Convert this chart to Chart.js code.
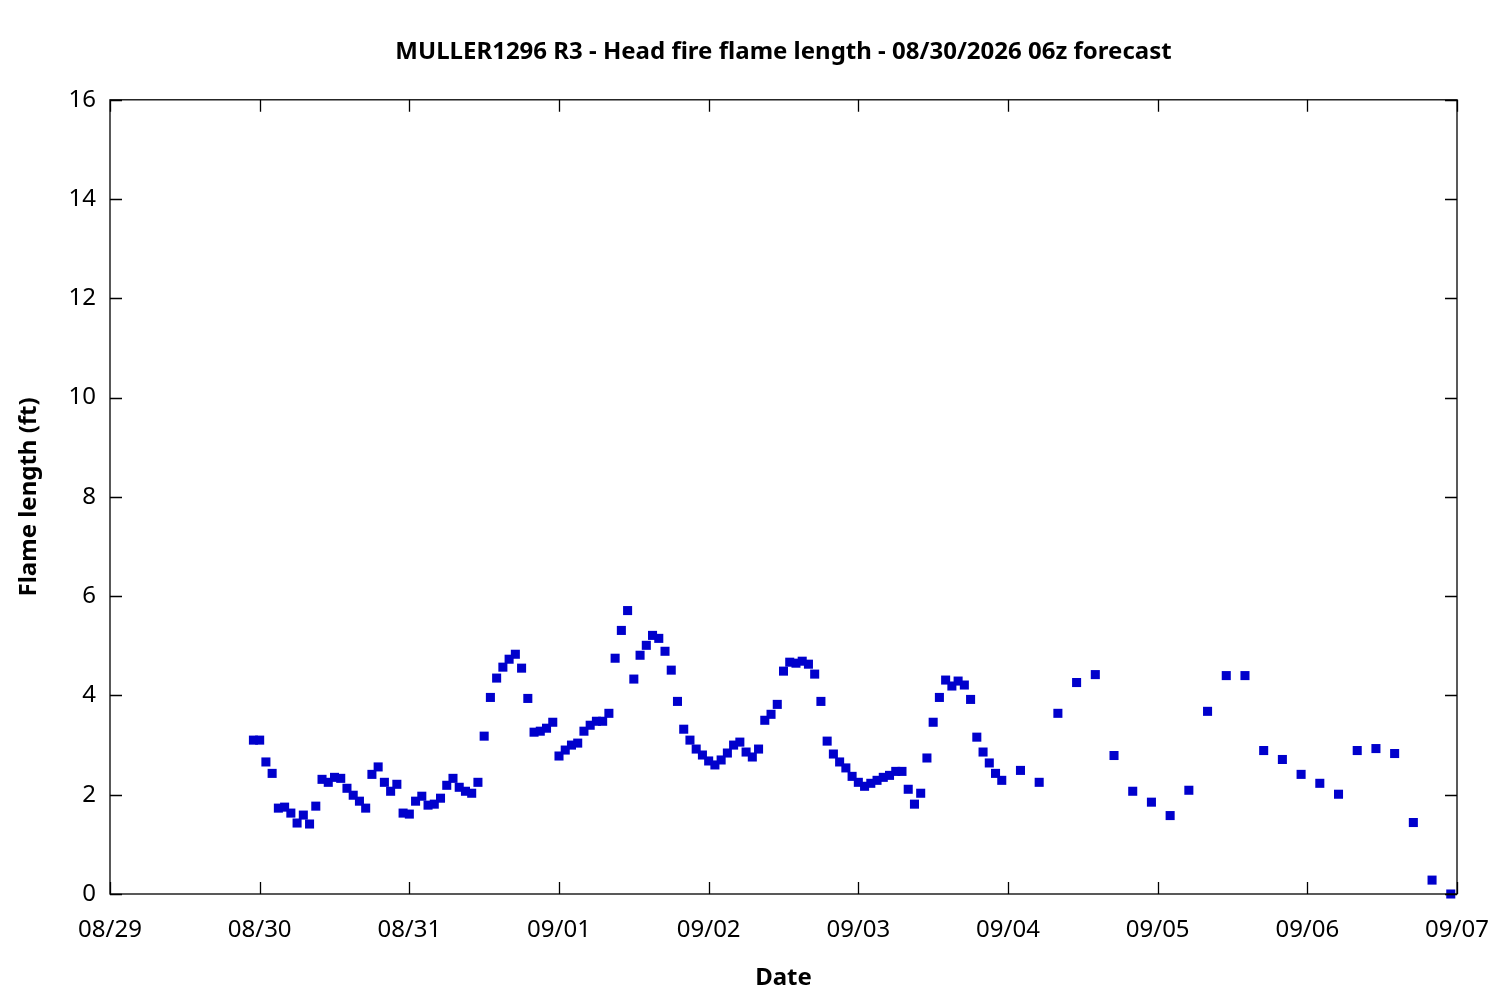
<!DOCTYPE html>
<html>
<head>
<meta charset="utf-8">
<script src="https://cdn.jsdelivr.net/npm/chart.js@4"></script>
<style>
  html, body { margin: 0; padding: 0; background: #fff; }
  #wrap { width: 1500px; height: 1000px; }
</style>
</head>
<body>
<div id="wrap"><canvas id="flameChart" width="1500" height="1000"></canvas></div>
<script>
// hours since 08/29 00z
const hours = [
  23, 24, 25, 26, 27, 28, 29, 30, 31, 32, 33, 34, 35, 36, 37, 38, 39, 40, 41, 42,
  43, 44, 45, 46, 47, 48, 49, 50, 51, 52, 53, 54, 55, 56, 57, 58, 59, 60, 61, 62,
  63, 64, 65, 66, 67, 68, 69, 70, 71, 72, 73, 74, 75, 76, 77, 78, 79, 80, 81, 82,
  83, 84, 85, 86, 87, 88, 89, 90, 91, 92, 93, 94, 95, 96, 97, 98, 99, 100, 101, 102,
  103, 104, 105, 106, 107, 108, 109, 110, 111, 112, 113, 114, 115, 116, 117, 118, 119, 120, 121, 122,
  123, 124, 125, 126, 127, 128, 129, 130, 131, 132, 133, 134, 135, 136, 137, 138, 139, 140, 141, 142,
  143, 146, 149, 152, 155, 158, 161, 164, 167, 170, 173, 176, 179, 182, 185, 188, 191, 194, 197, 200,
  203, 206, 209, 212, 215
];

// flame length (ft)
const flameLength = [
  3.10, 3.10, 2.66, 2.43, 1.73, 1.75, 1.63, 1.43, 1.59, 1.41, 1.77, 2.31, 2.25, 2.35, 2.33, 2.13, 1.99, 1.87, 1.73, 2.41,
  2.56, 2.25, 2.07, 2.21, 1.63, 1.61, 1.87, 1.97, 1.79, 1.81, 1.93, 2.19, 2.33, 2.15, 2.07, 2.03, 2.25, 3.18, 3.96, 4.35,
  4.57, 4.73, 4.83, 4.55, 3.94, 3.26, 3.28, 3.34, 3.46, 2.78, 2.90, 3.00, 3.04, 3.28, 3.40, 3.48, 3.48, 3.64, 4.75, 5.31,
  5.71, 4.33, 4.81, 5.01, 5.21, 5.15, 4.89, 4.51, 3.88, 3.32, 3.10, 2.92, 2.80, 2.68, 2.60, 2.70, 2.84, 3.00, 3.06, 2.86,
  2.76, 2.92, 3.50, 3.62, 3.82, 4.49, 4.67, 4.65, 4.69, 4.63, 4.43, 3.88, 3.08, 2.82, 2.66, 2.54, 2.37, 2.25, 2.17, 2.23,
  2.29, 2.35, 2.39, 2.47, 2.47, 2.11, 1.81, 2.03, 2.74, 3.46, 3.96, 4.31, 4.19, 4.29, 4.21, 3.92, 3.16, 2.86, 2.64, 2.43,
  2.29, 2.49, 2.25, 3.64, 4.26, 4.42, 2.79, 2.07, 1.85, 1.58, 2.09, 3.68, 4.40, 4.40, 2.89, 2.71, 2.41, 2.23, 2.01, 2.89,
  2.93, 2.83, 1.44, 0.28, 0.00
];

const dateLabels = ["08/29", "08/30", "08/31", "09/01", "09/02", "09/03", "09/04", "09/05", "09/06", "09/07"];
const yTicks = [0, 2, 4, 6, 8, 10, 12, 14, 16];

const FONT = "'Noto Sans', 'Open Sans', sans-serif";

// gnuplot style frame: box all round, ticks pointing inward, mirrored
const frameTicks = {
  id: 'frameTicks',
  afterDraw(chart) {
    const { ctx, chartArea: a, scales } = chart;
    const len = 12;
    ctx.save();
    ctx.strokeStyle = '#000';
    ctx.lineWidth = 1.3;
    ctx.strokeRect(a.left, a.top, a.right - a.left, a.bottom - a.top);
    ctx.beginPath();
    scales.x.ticks.forEach(t => {
      const px = Math.round(scales.x.getPixelForValue(t.value)) + 0.5;
      ctx.moveTo(px, a.bottom); ctx.lineTo(px, a.bottom - len);
      ctx.moveTo(px, a.top); ctx.lineTo(px, a.top + len);
    });
    scales.y.ticks.forEach(t => {
      const py = Math.round(scales.y.getPixelForValue(t.value)) + 0.5;
      ctx.moveTo(a.left, py); ctx.lineTo(a.left + len, py);
      ctx.moveTo(a.right, py); ctx.lineTo(a.right - len, py);
    });
    ctx.stroke();
    ctx.restore();
  }
};

new Chart(document.getElementById('flameChart'), {
  type: 'scatter',
  data: {
    datasets: [{
      label: 'Flame length',
      data: hours.map((h, i) => ({ x: h, y: flameLength[i] })),
      pointStyle: 'rect',
      pointRadius: 6.4,
      pointHoverRadius: 6.4,
      borderWidth: 0,
      backgroundColor: '#0000cc',
      borderColor: '#0000cc',
      clip: false
    }]
  },
  options: {
    responsive: false,
    animation: false,
    layout: { padding: { top: 0, right: 43, bottom: 0, left: 0 } },
    plugins: {
      legend: { display: false },
      tooltip: { enabled: false },
      title: {
        display: true,
        fullSize: false,
        text: 'MULLER1296 R3 - Head fire flame length - 08/30/2026 06z forecast',
        color: '#000',
        font: { family: FONT, size: 24, weight: 'bold' },
        padding: { top: 38, bottom: 33 }
      }
    },
    scales: {
      x: {
        type: 'linear',
        min: 0,
        max: 216,
        afterBuildTicks(scale) {
          scale.ticks = dateLabels.map((d, i) => ({ value: i * 24 }));
        },
        afterFit(scale) {
          scale.height = 106;
          scale.paddingLeft = 0;
          scale.paddingRight = 0;
        },
        grid: { display: false, drawTicks: false },
        border: { display: false },
        ticks: {
          color: '#000',
          padding: 22,
          maxRotation: 0,
          font: { family: FONT, size: 24 },
          callback: (v) => dateLabels[Math.round(v / 24)]
        },
        title: {
          display: true,
          text: 'Date',
          color: '#000',
          font: { family: FONT, size: 24, weight: 'bold' },
          padding: { top: 14, bottom: 7 }
        }
      },
      y: {
        min: 0,
        max: 16,
        afterBuildTicks(scale) {
          scale.ticks = yTicks.map(v => ({ value: v }));
        },
        afterFit(scale) {
          scale.width = 110;
          scale.paddingTop = 0;
          scale.paddingBottom = 0;
        },
        grid: { display: false, drawTicks: false },
        border: { display: false },
        ticks: {
          color: '#000',
          padding: 14,
          font: { family: FONT, size: 24 }
        },
        title: {
          display: true,
          text: 'Flame length (ft)',
          color: '#000',
          font: { family: FONT, size: 24, weight: 'bold' },
          padding: { top: 15, bottom: 0 }
        }
      }
    }
  },
  plugins: [frameTicks]
});
</script>
</body>
</html>
